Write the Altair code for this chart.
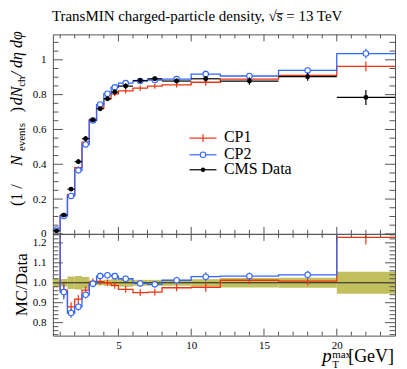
import altair as alt
import pandas as pd

# ---------------- data ----------------
edges = [0.5, 1, 1.5, 2, 2.5, 3, 3.5, 4, 4.5, 5, 6, 7, 8, 10, 12, 16, 20, 24]
data_val = [0.018, 0.108, 0.257, 0.415, 0.547, 0.654, 0.719, 0.776, 0.815, 0.849,
            0.881, 0.891, 0.878, 0.891, 0.878, 0.903, 0.784]
data_err = [0.0004, 0.002, 0.008, 0.014, 0.016, 0.008, 0.009, 0.012, 0.015, 0.017,
            0.013, 0.013, 0.013, 0.016, 0.021, 0.023, 0.043]
cp1_val = [0.026, 0.104, 0.226, 0.381, 0.527, 0.657, 0.723, 0.776, 0.804, 0.821,
           0.837, 0.849, 0.856, 0.871, 0.889, 0.910, 0.962]
cp1_err = [0.002, 0.004, 0.006, 0.008, 0.010, 0.012, 0.012, 0.012, 0.013, 0.014,
           0.015, 0.015, 0.015, 0.020, 0.016, 0.018, 0.028]
cp2_val = [0.025, 0.103, 0.218, 0.365, 0.514, 0.651, 0.743, 0.805, 0.842, 0.866,
           0.878, 0.884, 0.889, 0.918, 0.907, 0.939, 1.036]
cp2_err = [0.002, 0.004, 0.006, 0.008, 0.010, 0.012, 0.012, 0.012, 0.013, 0.014,
           0.015, 0.015, 0.015, 0.020, 0.016, 0.018, 0.028]

x_major = [5, 10, 15, 20]
x_minor = [1, 2, 3, 4, 6, 7, 8, 9, 11, 12, 13, 14, 16, 17, 18, 19, 21, 22, 23]
y_top_major = [0, 0.2, 0.4, 0.6, 0.8, 1.0]
y_top_minor = [0.05, 0.1, 0.15, 0.25, 0.3, 0.35, 0.45, 0.5, 0.55, 0.65, 0.7, 0.75,
               0.85, 0.9, 0.95, 1.05, 1.1]
y_rat_major = [0.8, 0.9, 1.0, 1.1, 1.2]
y_rat_minor = [0.74, 0.76, 0.78, 0.82, 0.84, 0.86, 0.88, 0.92, 0.94, 0.96, 0.98,
               1.02, 1.04, 1.06, 1.08, 1.12, 1.14, 1.16, 1.18, 1.22, 1.24]

legend_labels = ["CP1", "CP2", "CMS Data"]
title_text = "TransMIN charged-particle density, \u221as\u0305 = 13 TeV"

# y-axis title pieces: (text, italic, subscript)
ytitle_pieces = [("(1 / ", False, False), ("N", True, False), ("events", False, True),
                 (") ", False, False), ("dN", True, False), ("ch", False, True),
                 (" / d\u03b7 d\u03c6", True, False)]
ytitle_start = [203, 163, 148, 109, 102, 83.5, 73]

RED = "#ee3311"
BLUE = "#3366ff"
BAND = "#c2bf5e"
FRAME = "#555555"
FONT = "Liberation Serif"

W, H1, H2 = 343, 200, 102
X_DOM = [0.5, 24]
Y1_DOM = [0, 1.146]
Y2_DOM = [0.735, 1.245]

# ---------------- tables ----------------
lo, hi = edges[:-1], edges[1:]
mid = [(a + b) / 2 for a, b in zip(lo, hi)]
bins = pd.DataFrame({"lo": lo, "hi": hi, "mid": mid,
                     "data": data_val, "derr": data_err,
                     "cp1": cp1_val, "e1": cp1_err, "cp2": cp2_val, "e2": cp2_err})
bins["d_lo"] = bins.data - bins.derr
bins["d_hi"] = bins.data + bins.derr
bins["c1_lo"] = bins.cp1 - bins.e1
bins["c1_hi"] = bins.cp1 + bins.e1
bins["c2_lo"] = bins.cp2 - bins.e2
bins["c2_hi"] = bins.cp2 + bins.e2
bins["r1"] = bins.cp1 / bins.data
bins["r2"] = bins.cp2 / bins.data
bins["r1_lo"] = bins.c1_lo / bins.data
bins["r1_hi"] = bins.c1_hi / bins.data
bins["r2_lo"] = bins.c2_lo / bins.data
bins["r2_hi"] = bins.c2_hi / bins.data
bins["band_lo"] = 1 - bins.derr / bins.data
bins["band_hi"] = 1 + bins.derr / bins.data

steps = pd.DataFrame({"x": edges,
                      "cp1": cp1_val + [cp1_val[-1]],
                      "cp2": cp2_val + [cp2_val[-1]],
                      "r1": list(bins.r1) + [bins.r1.iloc[-1]],
                      "r2": list(bins.r2) + [bins.r2.iloc[-1]],
                      "one": [1.0] * len(edges)})

xs = alt.Scale(domain=X_DOM, nice=False, zero=False)
ys1 = alt.Scale(domain=Y1_DOM, nice=False, zero=False)
ys2 = alt.Scale(domain=Y2_DOM, nice=False, zero=False)

noax = dict(grid=False, ticks=False, tickSize=0, domain=False, title=None)
ax_x_top = alt.Axis(labels=False, **noax)
ax_x_bot = alt.Axis(values=x_major, format="d", labelFont=FONT, labelFontSize=11,
                    labelColor="black", labelPadding=4, **noax)
ax_y_top = alt.Axis(values=y_top_major, format="~g", labelFont=FONT, labelFontSize=11,
                    labelColor="black", labelPadding=7, **noax)
ax_y_bot = alt.Axis(values=y_rat_major, format=".1f", labelFont=FONT, labelFontSize=11,
                    labelColor="black", labelPadding=7, **noax)


def X(f, axis):
    return alt.X(f, scale=xs, axis=axis)


def Y(f, scale, axis):
    return alt.Y(f, scale=scale, axis=axis)


def one_row():
    return pd.DataFrame({"a": [0]})


def ticks_layers(yscale, yaxis, xaxis, ymaj, ymin, h, ylen=(10, 5.5), xlen=(7, 4)):
    out = []
    for vals, L in ((ymaj, ylen[0]), (ymin, ylen[1])):
        d = pd.DataFrame({"v": vals})
        out.append(alt.Chart(d).mark_rule(color=FRAME, strokeWidth=1).encode(
            y=Y("v:Q", yscale, yaxis), x=alt.value(0), x2=alt.value(L)))
        out.append(alt.Chart(d).mark_rule(color=FRAME, strokeWidth=1).encode(
            y=Y("v:Q", yscale, yaxis), x=alt.value(W), x2=alt.value(W - L)))
    for vals, L in ((x_major, xlen[0]), (x_minor, xlen[1])):
        d = pd.DataFrame({"v": vals})
        out.append(alt.Chart(d).mark_rule(color=FRAME, strokeWidth=1).encode(
            x=X("v:Q", xaxis), y=alt.value(0), y2=alt.value(L)))
        out.append(alt.Chart(d).mark_rule(color=FRAME, strokeWidth=1).encode(
            x=X("v:Q", xaxis), y=alt.value(h), y2=alt.value(h - L)))
    return out


def text(txt, x, y, size, angle=0, align="left", italic=False):
    kw = dict(text=txt, font=FONT, fontSize=size, color="black", align=align,
              baseline="alphabetic")
    if angle:
        kw["angle"] = angle
    if italic:
        kw["fontStyle"] = "italic"
    return alt.Chart(one_row()).mark_text(**kw).encode(x=alt.value(x), y=alt.value(y))


# ---------------- top panel ----------------
top_layers = ticks_layers(ys1, ax_y_top, ax_x_top, y_top_major, y_top_minor, H1)

top_layers += [
    alt.Chart(steps).mark_line(interpolate="step-after", color=RED, strokeWidth=1.3).encode(
        x=X("x:Q", ax_x_top), y=Y("cp1:Q", ys1, ax_y_top)),
    alt.Chart(bins).mark_rule(color=RED, strokeWidth=1.2).encode(
        x=X("mid:Q", ax_x_top), y=Y("c1_lo:Q", ys1, ax_y_top), y2="c1_hi:Q"),
    alt.Chart(steps).mark_line(interpolate="step-after", color=BLUE, strokeWidth=1.3).encode(
        x=X("x:Q", ax_x_top), y=Y("cp2:Q", ys1, ax_y_top)),
    alt.Chart(bins).mark_rule(color=BLUE, strokeWidth=1.2).encode(
        x=X("mid:Q", ax_x_top), y=Y("c2_lo:Q", ys1, ax_y_top), y2="c2_hi:Q"),
    alt.Chart(bins).mark_point(shape="circle", filled=True, fill="white", stroke=BLUE,
                               strokeWidth=1.1, size=30, opacity=1).encode(
        x=X("mid:Q", ax_x_top), y=Y("cp2:Q", ys1, ax_y_top)),
    alt.Chart(bins).mark_rule(color="black", strokeWidth=1.2).encode(
        x=X("lo:Q", ax_x_top), x2="hi:Q", y=Y("data:Q", ys1, ax_y_top)),
    alt.Chart(bins).mark_rule(color="black", strokeWidth=1.2).encode(
        x=X("mid:Q", ax_x_top), y=Y("d_lo:Q", ys1, ax_y_top), y2="d_hi:Q"),
    alt.Chart(bins).mark_circle(color="black", size=24, opacity=1).encode(
        x=X("mid:Q", ax_x_top), y=Y("data:Q", ys1, ax_y_top)),
]

# legend
leg_rows = [104, 120.7, 135.7]
leg_cols = [RED, BLUE, "black"]
for lab, ry, col in zip(legend_labels, leg_rows, leg_cols):
    top_layers.append(alt.Chart(one_row()).mark_rule(color=col, strokeWidth=1.2).encode(
        x=alt.value(137), x2=alt.value(164), y=alt.value(ry)))
    top_layers.append(text(lab, 171.5, ry + 4, 16))
top_layers.append(alt.Chart(one_row()).mark_rule(color=RED, strokeWidth=1.2).encode(
    x=alt.value(150.5), y=alt.value(leg_rows[0] - 4), y2=alt.value(leg_rows[0] + 4)))
top_layers.append(alt.Chart(one_row()).mark_point(
    shape="circle", filled=True, fill="white", stroke=BLUE, strokeWidth=1.1, size=30,
    opacity=1).encode(x=alt.value(150.5), y=alt.value(leg_rows[1])))
top_layers.append(alt.Chart(one_row()).mark_circle(color="black", size=20, opacity=1).encode(
    x=alt.value(150.5), y=alt.value(leg_rows[2])))

# title
top_layers.append(text(title_text, -1, -13, 15))

# y title: pieces in pixel coordinates (scale=None), rotated
yt = pd.DataFrame({
    "t": [p[0] for p in ytitle_pieces],
    "it": [p[1] for p in ytitle_pieces],
    "sub": [p[2] for p in ytitle_pieces],
    "py": [v - 31 for v in ytitle_start],
})
yt["px"] = [(-31 + 3) if s else -31 for s in yt["sub"]]
yt["fs"] = [11 if s else 16 for s in yt["sub"]]
for italic in (False, True):
    part = yt[yt["it"] == italic]
    mk = dict(font=FONT, color="black", align="left", baseline="alphabetic", angle=270)
    if italic:
        mk["fontStyle"] = "italic"
    top_layers.append(alt.Chart(part).mark_text(**mk).encode(
        x=alt.X("px:Q", scale=None, axis=None),
        y=alt.Y("py:Q", scale=None, axis=None),
        size=alt.Size("fs:Q", scale=None, legend=None),
        text="t:N"))

top = alt.layer(*top_layers).properties(width=W, height=H1)

# ---------------- ratio panel ----------------
bot_layers = [
    alt.Chart(bins).mark_rect(color=BAND, opacity=1).encode(
        x=X("lo:Q", ax_x_bot), x2="hi:Q", y=Y("band_lo:Q", ys2, ax_y_bot), y2="band_hi:Q"),
    alt.Chart(steps).mark_line(interpolate="step-after", color="#222222", strokeWidth=1.1).encode(
        x=X("x:Q", ax_x_bot), y=Y("one:Q", ys2, ax_y_bot)),
    alt.Chart(steps).mark_line(interpolate="step-after", color=RED, strokeWidth=1.3, clip=True).encode(
        x=X("x:Q", ax_x_bot), y=Y("r1:Q", ys2, ax_y_bot)),
    alt.Chart(bins).mark_rule(color=RED, strokeWidth=1.2, clip=True).encode(
        x=X("mid:Q", ax_x_bot), y=Y("r1_lo:Q", ys2, ax_y_bot), y2="r1_hi:Q"),
    alt.Chart(steps).mark_line(interpolate="step-after", color=BLUE, strokeWidth=1.3, clip=True).encode(
        x=X("x:Q", ax_x_bot), y=Y("r2:Q", ys2, ax_y_bot)),
    alt.Chart(bins).mark_rule(color=BLUE, strokeWidth=1.2, clip=True).encode(
        x=X("mid:Q", ax_x_bot), y=Y("r2_lo:Q", ys2, ax_y_bot), y2="r2_hi:Q"),
    alt.Chart(bins).mark_point(shape="circle", filled=True, fill="white", stroke=BLUE,
                               strokeWidth=1.1, size=30, opacity=1, clip=True).encode(
        x=X("mid:Q", ax_x_bot), y=Y("r2:Q", ys2, ax_y_bot)),
]
bot_layers += ticks_layers(ys2, ax_y_bot, ax_x_bot, y_rat_major, y_rat_minor, H2)

# MC/Data title
bot_layers.append(text("MC/Data", 25 - 51, 282 - 231, 17, angle=270, align="center"))
# x title pieces (page -> plot: x-51, y-231)
bot_layers.append(text("p", 321 - 51, 359 - 231, 19, italic=True))
bot_layers.append(text("max", 331 - 51, 355 - 231, 11))
bot_layers.append(text("T", 331 - 51, 365 - 231, 11))
bot_layers.append(text("[GeV]", 393 - 51, 359 - 231, 18, align="right"))

bottom = alt.layer(*bot_layers).properties(width=W, height=H2)

chart = alt.vconcat(top, bottom, spacing=0, bounds="flush").properties(
    padding={"left": 0, "top": 0, "right": 0, "bottom": 0}
).configure_view(stroke=FRAME, strokeWidth=1)

chart.save("out.html", embed_options={"renderer": "svg", "actions": False})
